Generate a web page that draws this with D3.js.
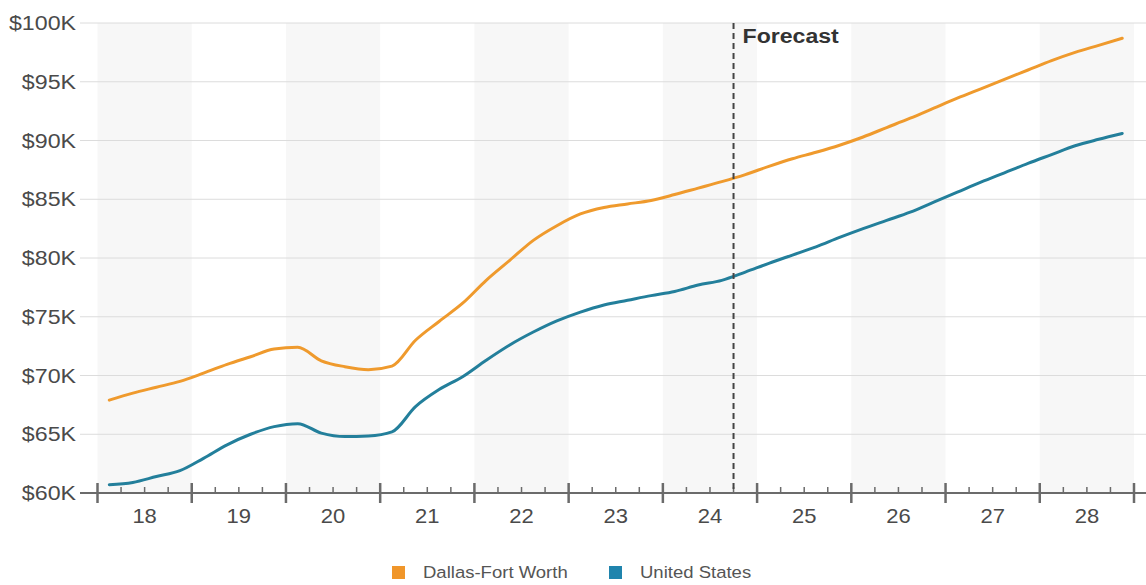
<!DOCTYPE html>
<html>
<head>
<meta charset="utf-8">
<script src="https://cdn.jsdelivr.net/npm/d3@7"></script>
<style>
  html, body { margin: 0; padding: 0; background: #fff; }
  svg { display: block; font-family: "Liberation Sans", Arial, Helvetica, sans-serif; }
</style>
</head>
<body>
<svg id="chart" width="1146" height="585"></svg>
<script>
// Median household income, quarterly, in thousands of dollars
const years = ["18", "19", "20", "21", "22", "23", "24", "25", "26", "27", "28"];
const quarters = ["Q1", "Q2", "Q3", "Q4"];

const dfwValues = [
  67.9, 68.5, 69.0, 69.5,
  70.2, 70.95, 71.6, 72.25,
  72.4, 71.25, 70.75, 70.5,
  70.8, 73.0, 74.6, 76.15,
  78.1, 79.8, 81.5, 82.75,
  83.75, 84.3, 84.6, 84.9,
  85.4, 85.95, 86.5, 87.1,
  87.8, 88.45, 89.0, 89.6,
  90.3, 91.1, 91.9, 92.75,
  93.6, 94.4, 95.2, 96.0,
  96.8, 97.5, 98.1, 98.7
];
const usValues = [
  60.7, 60.9, 61.4, 61.9,
  62.95, 64.1, 65.0, 65.65,
  65.9, 65.1, 64.8, 64.85,
  65.2, 67.35, 68.8, 69.9,
  71.3, 72.6, 73.7, 74.65,
  75.4, 76.0, 76.4, 76.8,
  77.15, 77.7, 78.1, 78.8,
  79.55, 80.25, 80.95, 81.75,
  82.5, 83.2, 83.9, 84.75,
  85.6, 86.45, 87.25, 88.05,
  88.8, 89.55, 90.1, 90.6
];
const yTicks = [60, 65, 70, 75, 80, 85, 90, 95, 100];
const forecastStart = "24Q4";
const seriesNames = ["Dallas-Fort Worth", "United States"];
const seriesColors = ["#ef9a2d", "#237f9b"];
const legendColors = ["#f0962a", "#1f84ad"];

const periods = years.flatMap(y => quarters.map(q => y + q));

const svg = d3.select("#chart");
const W = 1146, H = 585;
const plotLeft = 97.5, plotRight = 1134, plotTop = 23, plotBottom = 493;

svg.append("rect").attr("width", W).attr("height", H).attr("fill", "#fff");

const xYear = d3.scaleBand().domain(years).range([plotLeft, plotRight]);
const xQ = d3.scaleBand().domain(periods).range([plotLeft, plotRight]);
const y = d3.scaleLinear().domain([60, 100]).range([plotBottom, plotTop]);

// text placed at (x, y) and widened slightly
const place = (x, yy, sx) => `translate(${x},${yy}) scale(${sx},1)`;

// alternating year shading
svg.append("g").selectAll("rect")
  .data(years.filter((d, i) => i % 2 === 0))
  .join("rect")
  .attr("x", d => xYear(d))
  .attr("y", plotTop)
  .attr("width", xYear.bandwidth())
  .attr("height", plotBottom - plotTop)
  .attr("fill", "#f7f7f7");

// horizontal gridlines
svg.append("g").selectAll("line")
  .data(yTicks.filter(t => t > 60))
  .join("line")
  .attr("x1", 80).attr("x2", W)
  .attr("y1", d => y(d)).attr("y2", d => y(d))
  .attr("stroke", "#dcdcdc").attr("stroke-width", 1);

// y labels
svg.append("g").selectAll("text")
  .data(yTicks)
  .join("text")
  .attr("transform", d => place(76, y(d), 1.16))
  .attr("dy", "0.36em")
  .attr("text-anchor", "end")
  .attr("font-size", 20)
  .attr("fill", "#4a4a4a")
  .text(d => "$" + d + "K");

// lines
const line = d3.line()
  .x((d, i) => xQ(periods[i]) + xQ.bandwidth() / 2)
  .y(d => y(d))
  .curve(d3.curveMonotoneX);

[dfwValues, usValues].forEach((vals, k) => {
  svg.append("path")
    .datum(vals)
    .attr("d", line)
    .attr("fill", "none")
    .attr("stroke", seriesColors[k])
    .attr("stroke-width", 3)
    .attr("stroke-linejoin", "round")
    .attr("stroke-linecap", "round");
});

// x axis line and ticks
const axis = svg.append("g");
axis.append("line")
  .attr("x1", 80).attr("x2", W)
  .attr("y1", plotBottom).attr("y2", plotBottom)
  .attr("stroke", "#6b6b6b").attr("stroke-width", 2);

const minorQs = periods.filter(p => !p.endsWith("Q1"));
axis.selectAll("line.minor")
  .data(minorQs)
  .join("line")
  .attr("class", "minor")
  .attr("x1", d => xQ(d)).attr("x2", d => xQ(d))
  .attr("y1", plotBottom - 6).attr("y2", plotBottom)
  .attr("stroke", "#6b6b6b").attr("stroke-width", 1.5);

const majorXs = years.map(d => xYear(d)).concat([plotRight]);
axis.selectAll("line.major")
  .data(majorXs)
  .join("line")
  .attr("class", "major")
  .attr("x1", d => d).attr("x2", d => d)
  .attr("y1", plotBottom - 10).attr("y2", plotBottom + 10)
  .attr("stroke", "#6b6b6b").attr("stroke-width", 2.5);

axis.selectAll("text")
  .data(years)
  .join("text")
  .attr("transform", d => place(xYear(d) + xYear.bandwidth() / 2, 523, 1.1))
  .attr("text-anchor", "middle")
  .attr("font-size", 20)
  .attr("fill", "#4a4a4a")
  .text(d => d);

// forecast marker
const fx = xQ(forecastStart);
svg.append("line")
  .attr("x1", fx).attr("x2", fx)
  .attr("y1", plotTop).attr("y2", plotBottom)
  .attr("stroke", "#444").attr("stroke-width", 2)
  .attr("stroke-dasharray", "6,4");
svg.append("text")
  .attr("transform", place(fx + 9, 43, 1.1))
  .attr("font-size", 21)
  .attr("font-weight", "bold")
  .attr("fill", "#333")
  .text("Forecast");

// legend
const legendX = [392, 609];
const legend = svg.append("g");
seriesNames.forEach((name, k) => {
  legend.append("rect")
    .attr("x", legendX[k]).attr("y", 566)
    .attr("width", 13).attr("height", 13)
    .attr("fill", legendColors[k]);
  legend.append("text")
    .attr("transform", place(legendX[k] + 31, 578, 1.09))
    .attr("font-size", 17)
    .attr("fill", "#555")
    .text(name);
});
</script>
</body>
</html>
